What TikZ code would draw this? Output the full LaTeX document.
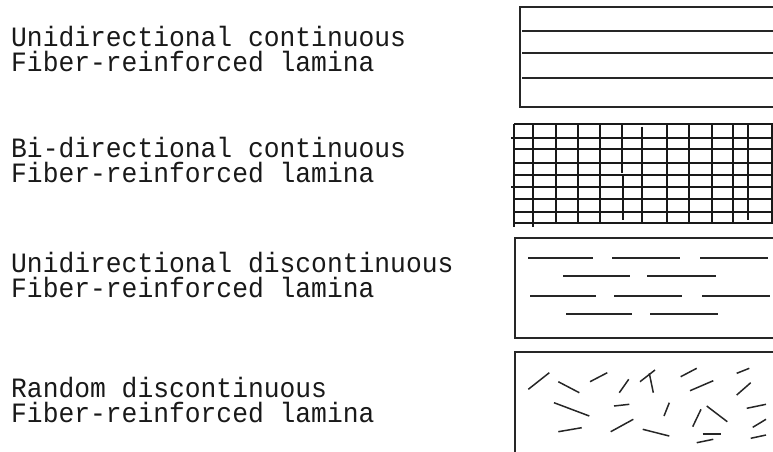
\documentclass[tikz,border=0pt]{standalone}
\usepackage{fontspec}
\newfontfamily\lblfont[FakeStretch=0.94]{Liberation Mono}
\newcommand{\twolines}[2]{\parbox[t]{490pt}{\baselineskip=25pt\lineskiplimit=-10pt #1\\#2}}
\begin{document}
\begin{tikzpicture}[x=1pt,y=-1pt,
  lbl/.style={anchor=base west,inner sep=0pt,
    font=\lblfont\fontsize{28}{25}\selectfont,text=black!90},
  frame/.style={draw=black!85,line width=2pt,line cap=rect},
  fib/.style={draw=black!85,line width=1.5pt},
  gridl/.style={draw=black!90,line width=2pt}]
\useasboundingbox (0,0) rectangle (773,451);
% labels
\node[lbl] (t1) at (11,46) {\twolines{Unidirectional continuous}{Fiber-reinforced lamina}};
\node[lbl] (t2) at (11,157) {\twolines{Bi-directional continuous}{Fiber-reinforced lamina}};
\node[lbl] (t3) at (11,272) {\twolines{Unidirectional discontinuous}{Fiber-reinforced lamina}};
\node[lbl] (t4) at (11,397) {\twolines{Random discontinuous}{Fiber-reinforced lamina}};
% box 1: unidirectional continuous
\draw[frame] (775,7) -- (520,7) -- (520,107) -- (775,107);
\foreach \y in {31,53,78} \draw[fib] (522,\y) -- (775,\y);
% box 2: grid
\foreach \y in {124,137.7,149.3,162.7,175,186.5,199,211.7,223.3}
  \draw[gridl] (514,\y) -- (775,\y);
\draw[gridl] (511,137.7) -- (514,137.7);
\draw[gridl] (511,186.5) -- (514,186.5);
\foreach \x in {514.3,532.7} \draw[gridl] (\x,124) -- (\x,226.7);
\foreach \x in {555.7,577.7,600,667.3,689.3,711.7,733.3,771.5} \draw[gridl] (\x,124) -- (\x,223.3);
\draw[gridl] (621.7,124) -- (621.7,173.3);
\draw[gridl] (623.3,175) -- (623.3,220);
\draw[gridl] (642.3,126.7) -- (642.3,223.3);
\draw[gridl] (748.3,124) -- (748.3,220);
% box 3: unidirectional discontinuous
\draw[frame] (775,238) -- (515,238) -- (515,338) -- (775,338);
\foreach \a/\b in {528/593,612/680,700/768} \draw[fib] (\a,258) -- (\b,258);
\foreach \a/\b in {563/630,647/716} \draw[fib] (\a,276) -- (\b,276);
\foreach \a/\b in {530/596,614/682,702/770} \draw[fib] (\a,296) -- (\b,296);
\foreach \a/\b in {566/632,650/718} \draw[fib] (\a,314) -- (\b,314);
% box 4: random discontinuous
\draw[frame] (775,352) -- (515,352) -- (515,453);
\foreach \xa/\ya/\xb/\yb in {
  528.3/389.3/549.3/372.7, 558.3/381.7/579.3/392.7, 590/381.7/607.3/372.7,
  619.3/392.7/628.7/379.3, 640/381.7/655/370, 649.3/373.3/653.3/392.7,
  680.7/376.7/696.7/368.3, 690/390.7/713.3/380.7, 736.7/373.3/749.3/368.3,
  736.7/395/750.7/382.7, 554/402.7/589.3/416, 614/406/629.3/404.3,
  664/416/669.3/402.7, 692.7/426.7/701/409.3, 706.7/406/727.3/421.7,
  746.7/408.3/766/404.3, 752.7/427.3/766/419.3, 558.3/431.7/581.7/427.7,
  610.7/431.7/633.3/419.3, 642.7/429.3/669.3/436, 702.7/434/720.7/434,
  696.7/442.7/713.3/439.3, 750.7/438.3/766/435}
  \draw[fib] (\xa,\ya) -- (\xb,\yb);
\end{tikzpicture}
\end{document}
